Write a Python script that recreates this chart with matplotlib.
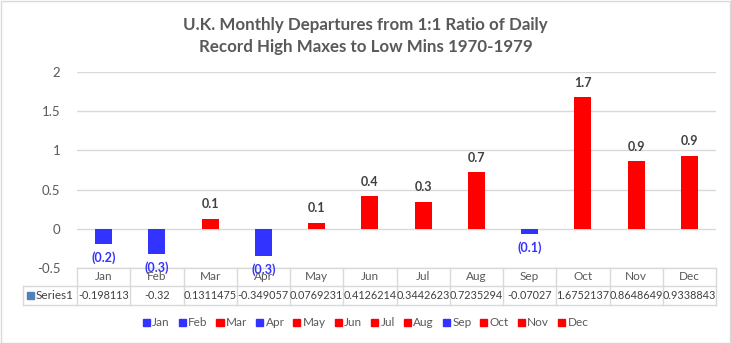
import matplotlib.pyplot as plt
from matplotlib.patches import Patch, Rectangle
from matplotlib.transforms import blended_transform_factory

months = ["Jan", "Feb", "Mar", "Apr", "May", "Jun",
          "Jul", "Aug", "Sep", "Oct", "Nov", "Dec"]
values = [-0.198113, -0.32, 0.1311475, -0.349057, 0.0769231, 0.4126214,
          0.3442623, 0.7235294, -0.07027, 1.6752137, 0.8648649, 0.9338843]
table_text = ["-0.198113", "-0.32", "0.1311475", "-0.349057", "0.0769231", "0.4126214",
              "0.3442623", "0.7235294", "-0.07027", "1.6752137", "0.8648649", "0.9338843"]
yticks = [-0.5, 0, 0.5, 1, 1.5, 2]
title_lines = ["U.K. Monthly Departures from 1:1 Ratio of Daily",
               "Record High Maxes to Low Mins 1970-1979"]

BLUE = "#3333FF"
RED = "#FF0000"
GRID = "#D9D9D9"
TXT = "#595959"
DARK = "#404040"

plt.rcParams["font.family"] = ["Lato", "DejaVu Sans"]

W, H = 731, 343
fig = plt.figure(figsize=(W / 100, H / 100), dpi=100)
fig.patches.append(Rectangle((0.5 / W, 0.5 / H), 1 - 1.5 / W, 1 - 1.5 / H,
                             transform=fig.transFigure, fill=False,
                             edgecolor=GRID, linewidth=1))

# plot area in pixels: x 77..716, y 72..268
left, right, top, bottom = 77, 716, 72, 268
ax = fig.add_axes([left / W, 1 - bottom / H, (right - left) / W, (bottom - top) / H])

colors = [BLUE if v < 0 else RED for v in values]
x = list(range(len(months)))
ax.bar(x, values, width=0.32, color=colors, zorder=3)

ax.set_xlim(-0.5, 11.5)
ax.set_ylim(-0.5, 2)
ax.set_yticks(yticks)
ax.set_yticklabels(["-0.5", "0", "0.5", "1", "1.5", "2"])
ax.tick_params(axis="y", length=0, pad=12, labelsize=9.5, labelcolor=TXT)
ax.set_xticks([])
for s in ax.spines.values():
    s.set_visible(False)
for t in yticks:
    ax.axhline(t, color=GRID, linewidth=1, zorder=1)

# data labels
for xi, v in zip(x, values):
    if v >= 0:
        ax.annotate(f"{v:.1f}", (xi, v), xytext=(0, 6), textcoords="offset points",
                    ha="center", va="bottom", fontsize=9, fontweight="bold", color=DARK)
    else:
        ax.annotate(f"({abs(v):.1f})", (xi, v), xytext=(0, -5), textcoords="offset points",
                    ha="center", va="top", fontsize=9, fontweight="bold", color=BLUE)

# data table under the axis
ax_h = bottom - top
cat_w = (right - left) / 12


def ay(py):
    return (bottom - py) / ax_h


def dx(px):
    return -0.5 + (px - left) / cat_w


trans = blended_transform_factory(ax.transData, ax.transAxes)
row1, row2 = ay(286), ay(305)
label_x = dx(23)
lkw = dict(color=GRID, linewidth=1, transform=trans, clip_on=False)
ax.plot([-0.5, 11.5], [0, 0], **lkw)
ax.plot([label_x, 11.5], [row1, row1], **lkw)
ax.plot([label_x, 11.5], [row2, row2], **lkw)
ax.plot([label_x, label_x], [row1, row2], **lkw)
for b in range(13):
    ax.plot([b - 0.5, b - 0.5], [0, row2], **lkw)
for xi, m, t in zip(x, months, table_text):
    ax.text(xi, row1 / 2, m, transform=trans, ha="center", va="center",
            fontsize=8.5, color=TXT)
    ax.text(xi, (row1 + row2) / 2, t, transform=trans, ha="center", va="center",
            fontsize=7.8, color=DARK)
ax.text(dx(36), (row1 + row2) / 2, "Series1", transform=trans,
        ha="left", va="center", fontsize=8.5, color=DARK)
ax.add_patch(Rectangle((dx(27), (row1 + row2) / 2 - 3.5 / ax_h), 7 / cat_w, 7 / ax_h,
                       transform=trans, color="#4F81BD", clip_on=False))

# legend
handles = [Patch(color=c, label=m) for m, c in zip(months, colors)]
fig.legend(handles=handles, loc="center", bbox_to_anchor=(0.5, 1 - 323 / H), ncol=12,
           frameon=False, fontsize=8.5, handlelength=0.6, handleheight=0.6,
           handletextpad=0.2, columnspacing=0.75, labelcolor=TXT)

# two-line chart title
for i, line in enumerate(title_lines):
    fig.text(0.5, 1 - (30 + 22 * i) / H, line, ha="center", va="baseline",
             fontsize=12.2, fontweight="bold", color=TXT)

fig.savefig("out.png", dpi=100)
